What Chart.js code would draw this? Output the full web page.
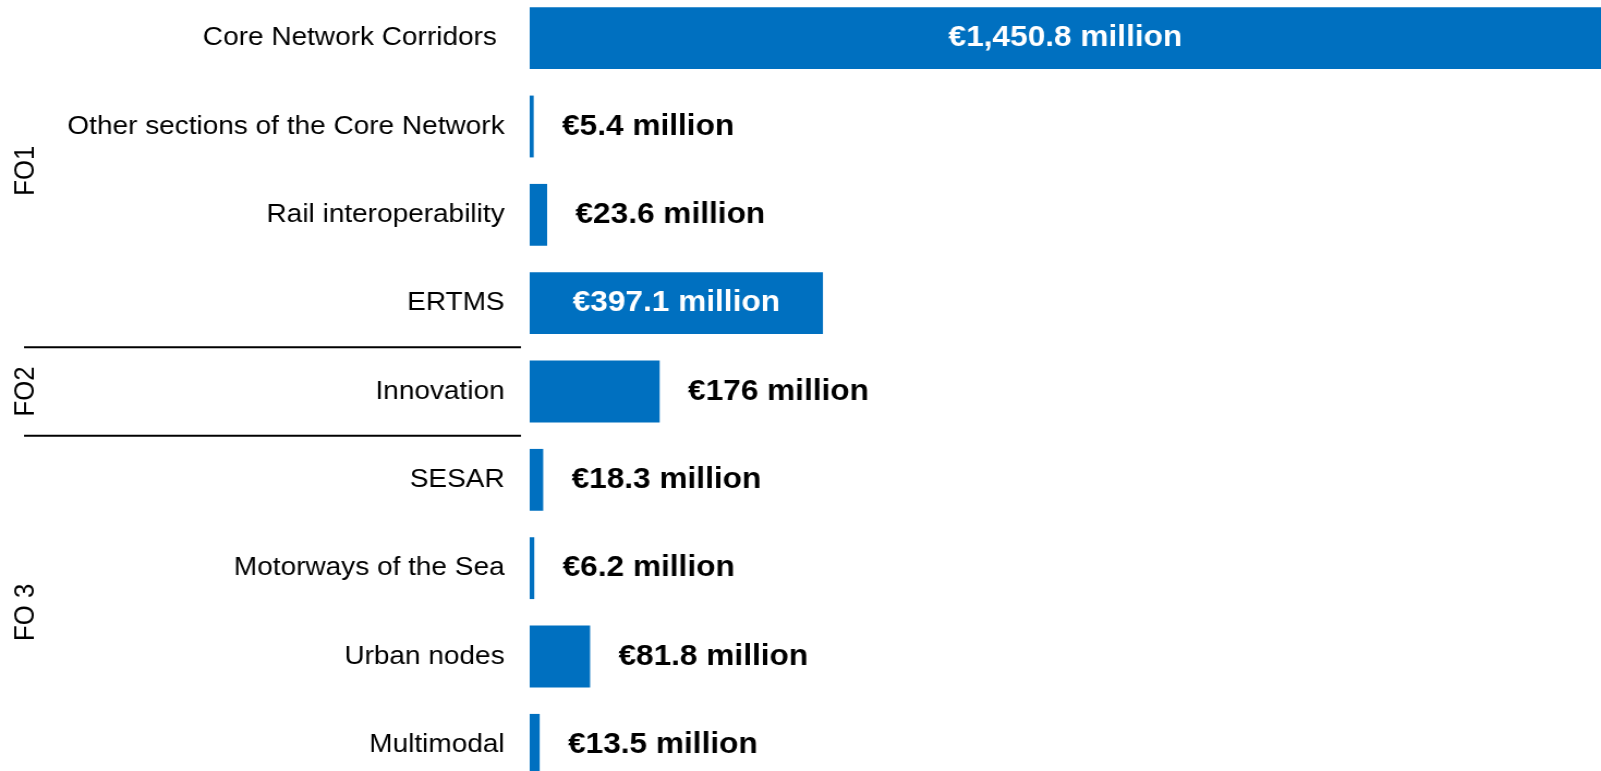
<!DOCTYPE html>
<html>
<head>
<meta charset="utf-8">
<script src="https://cdn.jsdelivr.net/npm/chart.js@4.4.1/dist/chart.umd.min.js"></script>
<style>
    html, body { margin: 0; padding: 0; background: #fff; overflow: hidden; }
    body { width: 1601px; height: 771px; position: relative; }
    /* the source picture is stretched horizontally, so the canvas is too */
    #wrap {
        position: absolute; left: 0; top: -6px;
        width: 1469px; height: 795px;
        transform: scaleX(1.0899); transform-origin: 0 0;
    }
</style>
</head>
<body>
<div id="wrap"><canvas id="budget-chart"></canvas></div>
<script>
// categories and amounts (EUR million)
const categories = [
    'Core Network Corridors ',
    'Other sections of the Core Network',
    'Rail interoperability',
    'ERTMS',
    'Innovation',
    'SESAR',
    'Motorways of the Sea',
    'Urban nodes',
    'Multimodal'
];
const amounts = [1450.8, 5.4, 23.6, 397.1, 176, 18.3, 6.2, 81.8, 13.5];

// funding objective groups (first and last category index of each)
const groupNames = ['FO1', 'FO2', 'FO 3'];
const groupFirst = [0, 4, 5];
const groupLast = [3, 4, 8];

const BLUE = '#0070C0';
const FAMILY = '"Liberation Sans", Arial, sans-serif';
const LABEL_FONT = '25.7px ' + FAMILY;
const VALUE_FONT = 'bold 29px ' + FAMILY;

const formatAmount = v => '\u20AC' + v.toLocaleString('en-US') + ' million';

// value labels: inside (white, centred) when they fit, otherwise after the bar
const valueLabels = {
    id: 'valueLabels',
    afterDatasetsDraw(chart) {
        const ctx = chart.ctx;
        const meta = chart.getDatasetMeta(0);
        ctx.save();
        ctx.font = VALUE_FONT;
        ctx.textBaseline = 'middle';
        meta.data.forEach((bar, i) => {
            const text = formatAmount(amounts[i]);
            const w = ctx.measureText(text).width;
            const barW = bar.x - bar.base;
            if (barW > w + 40) {
                ctx.fillStyle = '#fff';
                ctx.textAlign = 'center';
                ctx.fillText(text, (bar.x + bar.base) / 2, bar.y);
            } else {
                ctx.fillStyle = '#000';
                ctx.textAlign = 'left';
                ctx.fillText(text, bar.x + 26, bar.y);
            }
        });
        ctx.restore();
    }
};

// FO group titles and separators on the left
const groupLabels = {
    id: 'groupLabels',
    afterDraw(chart) {
        const ctx = chart.ctx;
        const y = chart.scales.y;
        ctx.save();
        ctx.strokeStyle = '#000';
        ctx.lineWidth = 2;
        ctx.fillStyle = '#000';
        ctx.font = LABEL_FONT;
        ctx.textAlign = 'center';
        ctx.textBaseline = 'middle';
        groupNames.forEach((name, g) => {
            const top = y.getPixelForValue(groupFirst[g]);
            const bottom = y.getPixelForValue(groupLast[g]);
            ctx.save();
            ctx.translate(24, (top + bottom) / 2);
            ctx.rotate(-Math.PI / 2);
            ctx.fillText(name, 0, 0);
            ctx.restore();
            if (g < groupNames.length - 1) {
                const sep = (bottom + y.getPixelForValue(groupFirst[g + 1])) / 2;
                ctx.beginPath();
                ctx.moveTo(22, sep);
                ctx.lineTo(478, sep);
                ctx.stroke();
            }
        });
        ctx.restore();
    }
};

new Chart(document.getElementById('budget-chart'), {
    type: 'bar',
    data: {
        labels: categories,
        datasets: [{
            data: amounts,
            backgroundColor: BLUE,
            borderWidth: 0,
            categoryPercentage: 1,
            barPercentage: 0.7
        }]
    },
    options: {
        indexAxis: 'y',
        responsive: true,
        maintainAspectRatio: false,
        animation: false,
        layout: { padding: 0 },
        plugins: {
            legend: { display: false },
            tooltip: { enabled: false }
        },
        scales: {
            x: {
                display: false,
                min: 0,
                max: 1450.8
            },
            y: {
                grid: { display: false, drawTicks: false },
                border: { display: false },
                ticks: {
                    color: '#000',
                    font: { family: FAMILY, size: 25.7 },
                    padding: 23
                },
                afterFit(scale) {
                    scale.width = 486;
                    scale.paddingTop = 0;
                    scale.paddingBottom = 0;
                }
            }
        }
    },
    plugins: [valueLabels, groupLabels]
});
</script>
</body>
</html>
